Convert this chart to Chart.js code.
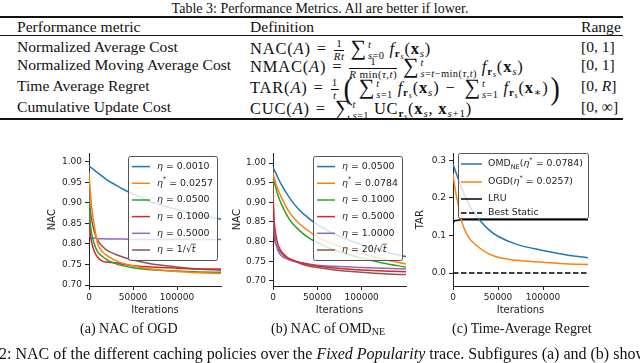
<!DOCTYPE html>
<html>
<head>
<meta charset="utf-8">
<script src="https://cdn.jsdelivr.net/npm/chart.js@4.4.1/dist/chart.umd.min.js"></script>
<style>
  body { margin: 0; width: 640px; height: 363px; overflow: hidden; background: #fff; position: relative;
         font-family: "Liberation Serif", "DejaVu Serif", serif; color: #111; }
  .t { position: absolute; white-space: nowrap; font-size: 15.6px; line-height: 16px; }
  .m { font-size: 16.5px; letter-spacing: 0.8px; }
  .eq { margin: 0 6px; }
  .rule { position: absolute; left: 0; width: 623px; background: #111; }
  canvas { position: absolute; }
  .fr { display: inline-block; vertical-align: middle; text-align: center; font-size: 11px; line-height: 9.5px; margin: 0 3px 0 1px; letter-spacing: 0.4px; }
  .fr span { display: block; }
  .fr .n { border-bottom: 0.8px solid #111; padding: 0 1px 1px; }
  .fr .d { padding-top: 1px; }
  .sm { font-size: 22px; position: relative; top: 1px; margin-left: 3px; }
  .lim { display: inline-block; vertical-align: middle; font-size: 10.5px; line-height: 9px; margin: 0 5px 0 1px; letter-spacing: 0.4px; }
  .lim span { display: block; }
  .lim span + span { margin-top: 2px; }
  sub { font-size: 11px; vertical-align: -3px; line-height: 0; }
  sub sub { font-size: 8px; vertical-align: -2px; }
  .big { font-size: 28px; display: inline-block; transform: scaleY(1.1); vertical-align: -5px; margin: 0 2px; }
  .cap { font-size: 14px; }
</style>
</head>
<body>
<div class="t" style="left:0;width:640px;text-align:center;top:1px;font-size:14px">Table 3: Performance Metrics. All are better if lower.</div>
<div class="rule" style="top:16px;height:1.5px"></div>
<div class="t" style="left:17px;top:19px">Performance metric</div>
<div class="t" style="left:250px;top:19px">Definition</div>
<div class="t" style="left:581px;top:19px">Range</div>
<div class="rule" style="top:35px;height:1px"></div>

<div class="t" style="left:17px;top:39px">Normalized Average Cost</div>
<div class="t m" style="left:250px;top:39px">NAC(<i>A</i>)<span class="eq">=</span><span class="fr"><span class="n">1</span><span class="d"><i>Rt</i></span></span><span class="sm">∑</span><span class="lim"><span><i>t</i></span><span><i>s</i>=0</span></span><i>f</i><sub><b>r</b><sub><i>s</i></sub></sub>(<b>x</b><sub><i>s</i></sub>)</div>
<div class="t" style="left:581px;top:39px">[0, 1]</div>

<div class="t" style="left:17px;top:57px">Normalized Moving Average Cost</div>
<div class="t m" style="left:250px;top:57px">NMAC(<i>A</i>)<span class="eq">=</span><span class="fr"><span class="n">1</span><span class="d"><i>R</i> min(<i>τ</i>,<i>t</i>)</span></span><span class="sm">∑</span><span class="lim"><span><i>t</i></span><span><i>s</i>=<i>t</i>−min(<i>τ</i>,<i>t</i>)</span></span><i>f</i><sub><b>r</b><sub><i>s</i></sub></sub>(<b>x</b><sub><i>s</i></sub>)</div>
<div class="t" style="left:581px;top:57px">[0, 1]</div>

<div class="t" style="left:17px;top:78px">Time Average Regret</div>
<div class="t m" style="left:250px;top:78px">TAR(<i>A</i>)<span class="eq">=</span><span class="fr"><span class="n">1</span><span class="d"><i>t</i></span></span><span class="big">(</span><span class="sm">∑</span><span class="lim"><span><i>t</i></span><span><i>s</i>=1</span></span><i>f</i><sub><b>r</b><sub><i>s</i></sub></sub>(<b>x</b><sub><i>s</i></sub>)<span class="eq">−</span><span class="sm">∑</span><span class="lim"><span><i>t</i></span><span><i>s</i>=1</span></span><i>f</i><sub><b>r</b><sub><i>s</i></sub></sub>(<b>x</b><sub>∗</sub>)<span class="big">)</span></div>
<div class="t" style="left:581px;top:78px">[0, <i>R</i>]</div>

<div class="t" style="left:17px;top:99px">Cumulative Update Cost</div>
<div class="t m" style="left:250px;top:99px">CUC(<i>A</i>)<span class="eq">=</span><span class="sm">∑</span><span class="lim"><span><i>t</i></span><span><i>s</i>=1</span></span>UC<sub><b>r</b><sub><i>s</i></sub></sub>(<b>x</b><sub><i>s</i></sub>, <b>x</b><sub><i>s</i>+1</sub>)</div>
<div class="t" style="left:581px;top:99px">[0, ∞]</div>
<div class="rule" style="top:118px;height:1.5px"></div>

<canvas id="chartA" width="200" height="177" style="left:30px;top:145px"></canvas>
<canvas id="chartB" width="200" height="177" style="left:215px;top:145px"></canvas>
<canvas id="chartC" width="190" height="177" style="left:410px;top:145px"></canvas>

<div class="t cap" style="left:80px;top:321px">(a) NAC of OGD</div>
<div class="t cap" style="left:271px;top:321px">(b) NAC of OMD<sub style="font-size:10px;vertical-align:-2px">NE</sub></div>
<div class="t cap" style="left:452px;top:321px">(c) Time-Average Regret</div>
<div class="t" style="left:-1px;top:346px;font-size:16px">2: NAC of the different caching policies over the <i>Fixed Popularity</i> trace. Subfigures (a) and (b) show</div>

<script>
var iters = [0, 1000, 3000, 6000, 10000, 15000, 20000, 30000, 40000, 50000, 70000, 100000, 125000, 150000];
var iterTicks = [0, 50000, 100000];
var nacTicks = [0.70, 0.75, 0.80, 0.85, 0.90, 0.95, 1.00];
var tarTicks = [0.0, 0.1, 0.2, 0.3];

// (a) NAC of OGD
var ogdLabels = ["η = 0.0010", "η^* = 0.0257", "η = 0.0500", "η = 0.1000", "η = 0.5000", "η = 1/√t"];
var ogdEta0010 = [0.990, 0.988, 0.985, 0.980, 0.973, 0.965, 0.957, 0.944, 0.932, 0.922, 0.903, 0.884, 0.871, 0.860];
var ogdEta0257 = [0.975, 0.940, 0.890, 0.845, 0.800, 0.782, 0.772, 0.760, 0.752, 0.747, 0.739, 0.733, 0.730, 0.728];
var ogdEta0500 = [0.910, 0.860, 0.825, 0.800, 0.780, 0.770, 0.762, 0.752, 0.746, 0.742, 0.737, 0.734, 0.732, 0.731];
var ogdEta1000 = [0.900, 0.840, 0.805, 0.782, 0.767, 0.758, 0.756, 0.754, 0.750, 0.747, 0.744, 0.741, 0.739, 0.739];
var ogdEta5000 = [0.920, 0.818, 0.815, 0.814, 0.813, 0.813, 0.812, 0.812, 0.812, 0.811, 0.811, 0.811, 0.811, 0.811];
var ogdEtaSqrt = [0.970, 0.900, 0.860, 0.830, 0.808, 0.795, 0.785, 0.775, 0.767, 0.761, 0.752, 0.744, 0.739, 0.736];

// (b) NAC of OMD_NE
var omdLabels = ["η = 0.0500", "η^* = 0.0784", "η = 0.1000", "η = 0.5000", "η = 1.0000", "η = 20/√t"];
var omdEta0500 = [0.990, 0.985, 0.975, 0.960, 0.943, 0.924, 0.907, 0.880, 0.860, 0.843, 0.818, 0.792, 0.775, 0.762];
var omdEta0784 = [0.975, 0.965, 0.950, 0.930, 0.910, 0.888, 0.870, 0.845, 0.827, 0.812, 0.792, 0.770, 0.755, 0.743];
var omdEta1000 = [0.965, 0.955, 0.938, 0.915, 0.893, 0.870, 0.852, 0.828, 0.810, 0.797, 0.778, 0.758, 0.745, 0.735];
var omdEta5000 = [0.910, 0.860, 0.820, 0.790, 0.773, 0.762, 0.755, 0.747, 0.742, 0.738, 0.733, 0.728, 0.725, 0.723];
var omdEta10000 = [0.910, 0.850, 0.800, 0.775, 0.763, 0.757, 0.752, 0.747, 0.743, 0.740, 0.737, 0.734, 0.732, 0.730];
var omdEtaSqrt = [0.990, 0.830, 0.795, 0.780, 0.770, 0.760, 0.754, 0.745, 0.738, 0.734, 0.728, 0.722, 0.718, 0.716];

// (c) time-average regret
var tarLabels = ["OMD_NE(η^* = 0.0784)", "OGD(η^* = 0.0257)", "LRU", "Best Static"];
var tarOmd = [0.290, 0.283, 0.270, 0.250, 0.224, 0.197, 0.172, 0.140, 0.115, 0.098, 0.077, 0.060, 0.049, 0.041];
var tarOgd = [0.265, 0.245, 0.215, 0.180, 0.135, 0.105, 0.087, 0.066, 0.051, 0.042, 0.034, 0.029, 0.025, 0.023];
var tarLru = [0.130, 0.138, 0.140, 0.141, 0.142, 0.142, 0.142, 0.142, 0.142, 0.142, 0.142, 0.142, 0.142, 0.142];
var tarStatic = [0, 0, 0, 0, 0, 0, 0, 0, 0, 0, 0, 0, 0, 0];

var tab10 = ["#1f77b4", "#ff7f0e", "#2ca02c", "#d62728", "#9467bd", "#8c564b"];
var ink = "#222";

function series(label, ys, color, dash) {
  return {
    label: label,
    data: ys.map(function (y, i) { return { x: iters[i], y: y }; }),
    borderColor: color,
    borderWidth: 1.5,
    borderDash: dash || [],
    pointRadius: 0,
    cubicInterpolationMode: "monotone",
    fill: false
  };
}

// mathtext-ish label: η italic, ^x superscript, _AB subscript, √x with bar
function drawMath(ctx, text, x, y, size) {
  var base = size + "px 'DejaVu Sans'";
  var ital = "italic " + size + "px 'DejaVu Sans'";
  var small = (size * 0.7) + "px 'DejaVu Sans'";
  ctx.textBaseline = "middle";
  ctx.textAlign = "left";
  ctx.fillStyle = ink;
  function put(s, font, dy) {
    ctx.font = font;
    ctx.fillText(s, x, y + dy);
    x += ctx.measureText(s).width;
  }
  var run = "";
  function flush() { if (run) { put(run, base, 0); run = ""; } }
  var i = 0;
  while (i < text.length) {
    var c = text[i];
    if (c === "η") { flush(); put(c, ital, 0); i++; }
    else if (c === "^") { flush(); put(text[i + 1], small, -size * 0.4); i += 2; }
    else if (c === "_") {
      flush();
      var j = i + 1;
      while (j < text.length && /[A-Z]/.test(text[j])) j++;
      put(text.slice(i + 1, j), small, size * 0.3);
      i = j;
    }
    else if (c === "√") {
      flush();
      put("√", base, 0);
      var x0 = x;
      put(text[i + 1], ital, 0);
      ctx.strokeStyle = ink;
      ctx.lineWidth = 0.7;
      ctx.setLineDash([]);
      ctx.beginPath();
      ctx.moveTo(x0 - 0.5, y - size * 0.62);
      ctx.lineTo(x + 0.5, y - size * 0.62);
      ctx.stroke();
      i += 2;
    }
    else { run += c; i++; }
  }
  flush();
}

var mplLegend = {
  id: "mplLegend",
  afterDatasetsDraw: function (chart, args, o) {
    var ctx = chart.ctx;
    ctx.save();
    ctx.beginPath();
    ctx.roundRect(o.x + 0.5, o.y + 0.5, o.w, o.h, 2);
    ctx.fillStyle = "rgba(255,255,255,0.8)";
    ctx.fill();
    ctx.strokeStyle = "#555";
    ctx.lineWidth = 1;
    ctx.stroke();
    chart.data.datasets.forEach(function (ds, i) {
      var y = o.rows[i];
      ctx.strokeStyle = ds.borderColor;
      ctx.lineWidth = ds.borderWidth;
      ctx.setLineDash(ds.borderDash);
      ctx.beginPath();
      ctx.moveTo(o.lineX, y);
      ctx.lineTo(o.lineX + o.lineLen, y);
      ctx.stroke();
      ctx.setLineDash([]);
      drawMath(ctx, ds.label, o.textX, y, 9.4);
    });
    ctx.restore();
  }
};

function makeChart(id, datasets, yMin, yMax, yTicks, digits, yTitle, yAxisW, titlePad, padRight, legend) {
  return new Chart(document.getElementById(id), {
    type: "line",
    data: { datasets: datasets },
    plugins: [mplLegend],
    options: {
      responsive: false,
      animation: false,
      events: [],
      layout: { padding: { top: 8, right: padRight, left: 0, bottom: 0 } },
      plugins: { legend: { display: false }, tooltip: { enabled: false }, mplLegend: legend },
      scales: {
        x: {
          type: "linear",
          min: 0,
          max: 150000,
          afterBuildTicks: function (s) { s.ticks = iterTicks.map(function (v) { return { value: v }; }); },
          afterFit: function (s) { s.height = 36; },
          ticks: { color: ink, padding: 2, maxRotation: 0, font: { family: "DejaVu Sans", size: 9 },
                   callback: function (v) { return String(v); } },
          grid: { drawOnChartArea: false, drawTicks: true, tickLength: 4, color: ink },
          border: { display: true, color: ink, width: 1 },
          title: { display: true, text: "Iterations", color: ink, padding: { bottom: 5.5, top: 0 },
                   font: { family: "DejaVu Sans", size: 10 } }
        },
        y: {
          min: yMin,
          max: yMax,
          afterBuildTicks: function (s) { s.ticks = yTicks.map(function (v) { return { value: v }; }); },
          afterFit: function (s) { s.width = yAxisW; },
          ticks: { color: ink, padding: 3, font: { family: "DejaVu Sans", size: 9 },
                   callback: function (v) { return v.toFixed(digits); } },
          grid: { drawOnChartArea: false, drawTicks: true, tickLength: 4, color: ink },
          border: { display: true, color: ink, width: 1 },
          title: { display: true, text: yTitle, color: ink, padding: { top: titlePad, bottom: 0 },
                   font: { family: "DejaVu Sans", size: 10 } }
        }
      }
    }
  });
}

var nacLegend = { x: 98, y: 11, w: 89, h: 104, rows: [21.6, 38.3, 55, 71.6, 88.3, 105], lineX: 102, lineLen: 18, textX: 127 };

makeChart("chartA", [
  series(ogdLabels[0], ogdEta0010, tab10[0]),
  series(ogdLabels[1], ogdEta0257, tab10[1]),
  series(ogdLabels[2], ogdEta0500, tab10[2]),
  series(ogdLabels[3], ogdEta1000, tab10[3]),
  series(ogdLabels[4], ogdEta5000, tab10[4]),
  series(ogdLabels[5], ogdEtaSqrt, tab10[5])
], 0.6976, 1.0206, nacTicks, 2, "NAC", 59, 16, 9, nacLegend);

makeChart("chartB", [
  series(omdLabels[0], omdEta0500, tab10[0]),
  series(omdLabels[1], omdEta0784, tab10[1]),
  series(omdLabels[2], omdEta1000, tab10[2]),
  series(omdLabels[3], omdEta5000, tab10[3]),
  series(omdLabels[4], omdEta10000, tab10[4]),
  series(omdLabels[5], omdEtaSqrt, tab10[5])
], 0.687, 1.0246, nacTicks, 2, "NAC", 58, 16, 9, nacLegend);

makeChart("chartC", [
  series(tarLabels[0], tarOmd, tab10[0]),
  series(tarLabels[1], tarOgd, tab10[1]),
  series(tarLabels[2], tarLru, "#000"),
  series(tarLabels[3], tarStatic, "#000", [5.5, 2.5])
], -0.0345, 0.3186, tarTicks, 1, "TAR", 43, 4, 12,
  { x: 48, y: 8, w: 130, h: 65, rows: [19, 37, 54, 68], lineX: 51, lineLen: 21, textX: 78 });
</script>
</body>
</html>
